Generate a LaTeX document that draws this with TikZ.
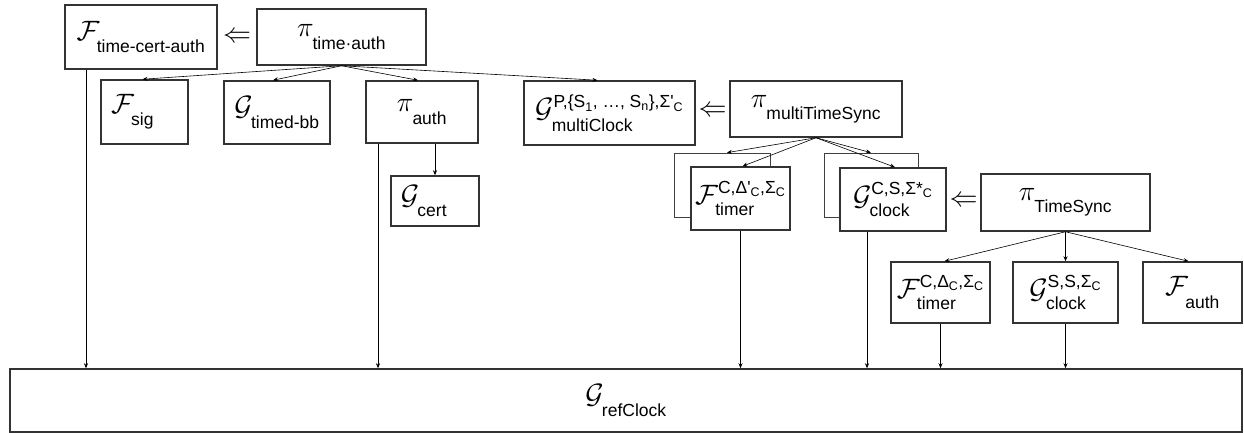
\RequirePackage{fix-cm}
\documentclass[tikz,border=0pt]{standalone}
\usepackage{amsmath}
\usepackage{fontspec}
\setmainfont{Liberation Sans}
\usetikzlibrary{arrows.meta,calc}
\newcommand{\tx}[1]{\text{\fontsize{17.5}{20}\selectfont #1}}
\newcommand{\txs}[1]{\text{\fontsize{12.5}{14}\selectfont #1}}
\newcommand{\lo}[1]{\raisebox{-8pt}{\tx{#1}}}
\newcommand{\lom}[1]{\raisebox{-4pt}{\tx{#1}}}
\newcommand{\lomm}[1]{\raisebox{-7pt}{\tx{#1}}}
\newcommand{\q}{\textquotesingle}
\begin{document}
\begin{tikzpicture}[x=1pt,y=-1pt,
  blk/.style={draw=black!80, line width=1.5pt, fill=white, inner sep=0pt,
    font=\fontsize{28}{32}\selectfont},
  backfr/.style={draw=black!75, line width=0.7pt},
  conn/.style={-{Stealth[length=5pt,width=4pt]}, line width=0.6pt, black},
  dbl/.style={inner sep=0pt, font=\fontsize{28}{32}\selectfont}]
\useasboundingbox (0,0) rectangle (1244,433);

% top row
\node[blk, minimum width=152pt, minimum height=64pt] (ftca) at (141,37)
  {$\mathcal{F}_{\lo{time-cert-auth}}$};
\node[blk, minimum width=169pt, minimum height=56pt] (pita) at (341.5,37)
  {$\pi_{\lo{time·auth}}$};

% second row
\node[blk, minimum width=87pt, minimum height=64pt] (fsig) at (144.5,112)
  {$\mathcal{F}_{\lo{sig}}$\hspace*{24pt}};
\node[blk, minimum width=106pt, minimum height=63pt] (gtbb) at (277,112.5)
  {$\mathcal{G}_{\lo{timed-bb}}$};
\node[blk, minimum width=112pt, minimum height=62pt] (piauth) at (422,112)
  {$\pi_{\lo{auth}}$};
\node[blk, minimum width=171pt, minimum height=64pt] (gmc) at (609.5,113)
  {$\mathcal{G}^{\tx{P,\{S}_{\txs{1}}\tx{, …, S}_{\txs{n}}\tx{\},Σ\q}_{\txs{C}}}_{\lomm{multiClock}}$};
\node[blk, minimum width=172pt, minimum height=56pt] (pimts) at (816,109)
  {$\pi_{\lo{multiTimeSync}}$};

% G_cert
\node[blk, minimum width=88pt, minimum height=50pt] (gcert) at (435,201)
  {$\mathcal{G}_{\lo{cert}}$\hspace*{22pt}};

% shadowed boxes
\node[backfr, minimum width=96pt, minimum height=64pt, inner sep=0pt] (ftpb) at (722,185) {};
\node[blk, minimum width=99pt, minimum height=63pt] (ftp) at (740.5,198.5)
  {$\mathcal{F}^{\tx{C,Δ\q}_{\txs{C}}\tx{,Σ}_{\txs{C}}}_{\lom{timer}}$};
\node[backfr, minimum width=94pt, minimum height=64pt, inner sep=0pt] (gcpb) at (871,185) {};
\node[blk, minimum width=106pt, minimum height=63pt] (gcp) at (893,199.5)
  {$\mathcal{G}^{\tx{C,S,Σ*}_{\txs{C}}}_{\lom{clock}}$};

\node[blk, minimum width=169pt, minimum height=57pt] (pits) at (1065.5,202.5)
  {$\pi_{\lo{TimeSync}}$};

% bottom row
\node[blk, minimum width=99pt, minimum height=61pt] (ft) at (940.5,292.5)
  {$\mathcal{F}^{\tx{C,Δ}_{\txs{C}}\tx{,Σ}_{\txs{C}}}_{\lom{timer}}$};
\node[blk, minimum width=105pt, minimum height=61pt] (gc) at (1065.5,292.5)
  {$\mathcal{G}^{\tx{S,S,Σ}_{\txs{C}}}_{\lom{clock}}$};
\node[blk, minimum width=99pt, minimum height=61pt] (fauth) at (1192.5,292.5)
  {$\mathcal{F}_{\lo{auth}}$};

% reference clock
\node[blk, minimum width=1232pt, minimum height=63pt] (ref) at (626,400.5)
  {$\mathcal{G}_{\lo{refClock}}$};

% double arrows
\node[dbl] (d1) at ($(ftca.east)!0.5!(pita.west)$) {$\Leftarrow$};
\node[dbl] (d2) at ($(gmc.east)!0.5!(pimts.west)$) {$\Leftarrow$};
\node[dbl] (d3) at ($(gcp.east)!0.5!(pits.west)$) {$\Leftarrow$};

% fan-out connectors
\draw[conn] (pita.south) -- ([xshift=-2pt]fsig.north);
\draw[conn] (pita.south) -- ([xshift=-4pt]gtbb.north);
\draw[conn] (pita.south) -- ([xshift=-4pt]piauth.north);
\draw[conn] (pita.south) -- ([xshift=-12pt]gmc.north);
\draw[conn] (piauth.south -| gcert.north) -- (gcert.north);

\draw[conn] (pimts.south) -- ([xshift=5pt]ftpb.north);
\draw[conn] (pimts.south) -- ([xshift=2pt]ftp.north);
\draw[conn] (pimts.south) -- (gcpb.north);
\draw[conn] (pimts.south) -- ([xshift=2pt]gcp.north);

\draw[conn] (pits.south) -- ([xshift=4pt]ft.north);
\draw[conn] (pits.south) -- (gc.north);
\draw[conn] (pits.south) -- ([xshift=-4pt]fauth.north);

% down to reference clock
\draw[conn] ([xshift=-55pt]ftca.south) -- ([xshift=-55pt]ftca.south |- ref.north);
\draw[conn] ([xshift=-44pt]piauth.south) -- ([xshift=-44pt]piauth.south |- ref.north);
\draw[conn] (ftp.south) -- (ftp.south |- ref.north);
\draw[conn] ([xshift=-26pt]gcp.south) -- ([xshift=-26pt]gcp.south |- ref.north);
\draw[conn] (ft.south) -- (ft.south |- ref.north);
\draw[conn] (gc.south) -- (gc.south |- ref.north);
\end{tikzpicture}
\end{document}
